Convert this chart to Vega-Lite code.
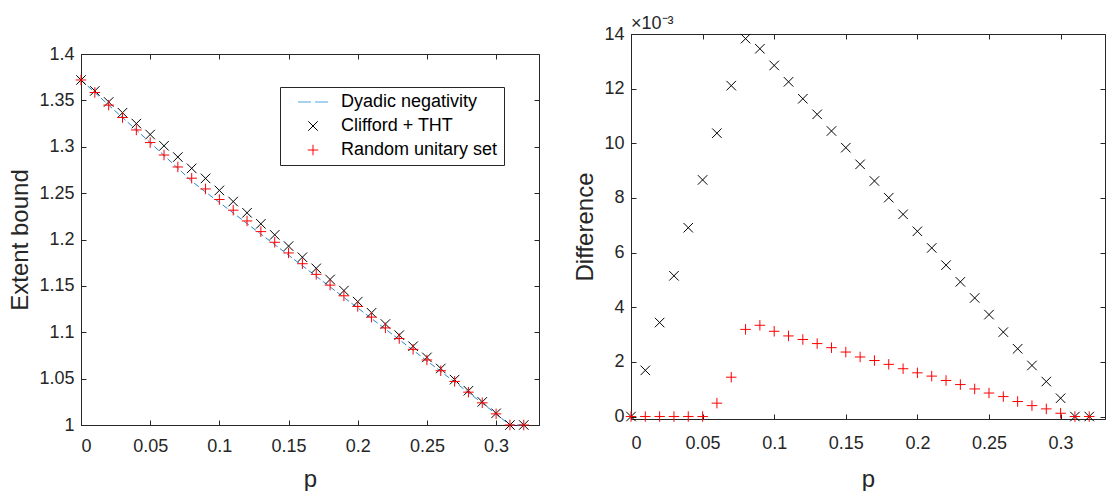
{
  "$schema": "https://vega.github.io/schema/vega-lite/v6.json",
  "background": "white",
  "padding": {"left": 8, "top": 14, "right": 0, "bottom": 0},
  "datasets": {
    "left": [
      {"p": 0, "dyadic": 1.372, "clifford": 1.372, "random": 1.372},
      {"p": 0.01, "dyadic": 1.3585, "clifford": 1.3602, "random": 1.3585},
      {"p": 0.02, "dyadic": 1.3449, "clifford": 1.3483, "random": 1.3449},
      {"p": 0.03, "dyadic": 1.3315, "clifford": 1.3367, "random": 1.3315},
      {"p": 0.04, "dyadic": 1.3181, "clifford": 1.325, "random": 1.3181},
      {"p": 0.05, "dyadic": 1.3045, "clifford": 1.3132, "random": 1.3045},
      {"p": 0.06, "dyadic": 1.2906, "clifford": 1.301, "random": 1.2911},
      {"p": 0.07, "dyadic": 1.2768, "clifford": 1.2889, "random": 1.2782},
      {"p": 0.08, "dyadic": 1.2629, "clifford": 1.2767, "random": 1.2661},
      {"p": 0.09, "dyadic": 1.2512, "clifford": 1.2659, "random": 1.2545},
      {"p": 0.1, "dyadic": 1.24, "clifford": 1.2529, "random": 1.2431},
      {"p": 0.11, "dyadic": 1.2286, "clifford": 1.2409, "random": 1.2316},
      {"p": 0.12, "dyadic": 1.2172, "clifford": 1.2288, "random": 1.22},
      {"p": 0.13, "dyadic": 1.2058, "clifford": 1.2169, "random": 1.2085},
      {"p": 0.14, "dyadic": 1.1945, "clifford": 1.205, "random": 1.197},
      {"p": 0.15, "dyadic": 1.1831, "clifford": 1.1929, "random": 1.1855},
      {"p": 0.16, "dyadic": 1.1717, "clifford": 1.1809, "random": 1.1739},
      {"p": 0.17, "dyadic": 1.1603, "clifford": 1.1689, "random": 1.1624},
      {"p": 0.18, "dyadic": 1.1489, "clifford": 1.1569, "random": 1.1508},
      {"p": 0.19, "dyadic": 1.1375, "clifford": 1.1449, "random": 1.1393},
      {"p": 0.2, "dyadic": 1.1262, "clifford": 1.133, "random": 1.1278},
      {"p": 0.21, "dyadic": 1.1148, "clifford": 1.121, "random": 1.1163},
      {"p": 0.22, "dyadic": 1.1034, "clifford": 1.1089, "random": 1.1047},
      {"p": 0.23, "dyadic": 1.092, "clifford": 1.0969, "random": 1.0932},
      {"p": 0.24, "dyadic": 1.0806, "clifford": 1.0849, "random": 1.0816},
      {"p": 0.25, "dyadic": 1.0692, "clifford": 1.0729, "random": 1.0701},
      {"p": 0.26, "dyadic": 1.0578, "clifford": 1.0609, "random": 1.0585},
      {"p": 0.27, "dyadic": 1.0464, "clifford": 1.0489, "random": 1.047},
      {"p": 0.28, "dyadic": 1.035, "clifford": 1.0369, "random": 1.0354},
      {"p": 0.29, "dyadic": 1.0236, "clifford": 1.0249, "random": 1.0239},
      {"p": 0.3, "dyadic": 1.0119, "clifford": 1.0126, "random": 1.012},
      {"p": 0.31, "dyadic": 1.0, "clifford": 1.0, "random": 1.0},
      {"p": 0.32, "dyadic": 1.0, "clifford": 1.0, "random": 1.0}
    ],
    "right": [
      {"p": 0, "clifford": 0, "random": 0},
      {"p": 0.01, "clifford": 1.69, "random": 0},
      {"p": 0.02, "clifford": 3.44, "random": 0},
      {"p": 0.03, "clifford": 5.15, "random": 0},
      {"p": 0.04, "clifford": 6.91, "random": 0},
      {"p": 0.05, "clifford": 8.66, "random": 0},
      {"p": 0.06, "clifford": 10.37, "random": 0.49},
      {"p": 0.07, "clifford": 12.11, "random": 1.44},
      {"p": 0.08, "clifford": 13.83, "random": 3.19},
      {"p": 0.09, "clifford": 13.46, "random": 3.34},
      {"p": 0.1, "clifford": 12.85, "random": 3.12},
      {"p": 0.11, "clifford": 12.25, "random": 2.95},
      {"p": 0.12, "clifford": 11.63, "random": 2.82},
      {"p": 0.13, "clifford": 11.06, "random": 2.67},
      {"p": 0.14, "clifford": 10.45, "random": 2.52},
      {"p": 0.15, "clifford": 9.84, "random": 2.36},
      {"p": 0.16, "clifford": 9.23, "random": 2.18},
      {"p": 0.17, "clifford": 8.62, "random": 2.05},
      {"p": 0.18, "clifford": 8.01, "random": 1.91},
      {"p": 0.19, "clifford": 7.4, "random": 1.75},
      {"p": 0.2, "clifford": 6.78, "random": 1.6},
      {"p": 0.21, "clifford": 6.17, "random": 1.48},
      {"p": 0.22, "clifford": 5.54, "random": 1.32},
      {"p": 0.23, "clifford": 4.93, "random": 1.17},
      {"p": 0.24, "clifford": 4.34, "random": 1.01},
      {"p": 0.25, "clifford": 3.73, "random": 0.86},
      {"p": 0.26, "clifford": 3.09, "random": 0.73},
      {"p": 0.27, "clifford": 2.48, "random": 0.55},
      {"p": 0.28, "clifford": 1.87, "random": 0.4},
      {"p": 0.29, "clifford": 1.28, "random": 0.28},
      {"p": 0.3, "clifford": 0.67, "random": 0.12},
      {"p": 0.31, "clifford": 0, "random": 0},
      {"p": 0.32, "clifford": 0, "random": 0}
    ]
  },
  "spacing": 33,
  "hconcat": [
    {
      "spacing": 9,
      "vconcat": [
        {
          "width": 458,
          "height": 1,
          "view": {"stroke": null},
          "data": {"values": []},
          "mark": {"type": "text", "text": ""},
          "encoding": {}
        },
        {
          "width": 458,
          "height": 371,
          "layer": [
            {
              "data": {"name": "left"},
              "mark": {"type": "line", "color": "#2a88d2", "strokeWidth": 1, "strokeDash": [6, 3]},
              "encoding": {
                "x": {"field": "p", "type": "quantitative", "scale": {"domain": [0, 0.331], "nice": false, "zero": false},
                  "axis": {"orient": "top", "labels": false, "title": null, "domain": false, "values": [0, 0.05, 0.1, 0.15, 0.2, 0.25, 0.3]}},
                "y": {"field": "dyadic", "type": "quantitative", "scale": {"domain": [1, 1.4], "nice": false, "zero": false},
                  "axis": {"orient": "right", "labels": false, "title": null, "domain": false, "values": [1, 1.05, 1.1, 1.15, 1.2, 1.25, 1.3, 1.35, 1.4]}}
              }
            },
            {
              "data": {"name": "left"},
              "transform": [{"fold": ["clifford", "random"], "as": ["series", "v"]}],
              "mark": {"type": "point", "filled": false, "strokeWidth": 1, "size": 100, "opacity": 1},
              "encoding": {
                "x": {"field": "p", "type": "quantitative", "scale": {"domain": [0, 0.331], "nice": false, "zero": false},
                  "axis": {"orient": "bottom", "title": "p", "format": ".2~f", "values": [0, 0.05, 0.1, 0.15, 0.2, 0.25, 0.3], "labelPadding": 17, "titlePadding": 12}},
                "y": {"field": "v", "type": "quantitative", "scale": {"domain": [1, 1.4], "nice": false, "zero": false},
                  "axis": {"orient": "left", "title": "Extent bound", "format": ".3~f", "values": [1, 1.05, 1.1, 1.15, 1.2, 1.25, 1.3, 1.35, 1.4], "titlePadding": 6}},
                "color": {"field": "series", "type": "nominal",
                  "scale": {"domain": ["dyadic", "clifford", "random"], "range": ["#4fa6e0", "#000000", "#ff0000"]},
                  "legend": {"labelExpr": "{'dyadic': 'Dyadic negativity', 'clifford': 'Clifford + THT', 'random': 'Random unitary set'}[datum.label]"}},
                "shape": {"field": "series", "type": "nominal",
                  "scale": {"domain": ["dyadic", "clifford", "random"], "range": ["M-3,0H-0.4M0.4,0H3", "M-0.95,-0.95L0.95,0.95M-0.95,0.95L0.95,-0.95", "M-1.05,0H1.05M0,-1.05V1.05"]},
                  "legend": {"labelExpr": "{'dyadic': 'Dyadic negativity', 'clifford': 'Clifford + THT', 'random': 'Random unitary set'}[datum.label]"}}
              }
            }
          ],
          "resolve": {"axis": {"x": "independent", "y": "independent"}}
        }
      ]
    },
    {
      "width": 474,
      "height": 385,
      "title": {"text": "×10⁻³", "anchor": "start", "frame": "group", "fontSize": 18, "font": "Liberation Sans", "color": "#262626", "fontWeight": "normal", "offset": -8},
      "layer": [
        {
          "data": {"name": "right"},
          "mark": {"type": "point", "filled": false, "strokeWidth": 1, "size": 100, "opacity": 1, "color": "#000000", "shape": "M-0.95,-0.95L0.95,0.95M-0.95,0.95L0.95,-0.95"},
          "encoding": {
            "x": {"field": "p", "type": "quantitative", "scale": {"domain": [0, 0.331], "nice": false, "zero": false},
              "axis": {"orient": "bottom", "title": "p", "format": ".2~f", "values": [0, 0.05, 0.1, 0.15, 0.2, 0.25, 0.3], "labelPadding": 20, "titlePadding": 15}},
            "y": {"field": "clifford", "type": "quantitative", "scale": {"domain": [-0.09, 14], "nice": false, "zero": false},
              "axis": {"orient": "left", "title": "Difference", "format": "d", "values": [0, 2, 4, 6, 8, 10, 12, 14], "titlePadding": 6}}
          }
        },
        {
          "data": {"name": "right"},
          "mark": {"type": "point", "filled": false, "strokeWidth": 1, "size": 100, "opacity": 1, "color": "#ff0000", "shape": "M-1.05,0H1.05M0,-1.05V1.05"},
          "encoding": {
            "x": {"field": "p", "type": "quantitative", "scale": {"domain": [0, 0.331], "nice": false, "zero": false},
              "axis": {"orient": "top", "labels": false, "title": null, "domain": false, "values": [0, 0.05, 0.1, 0.15, 0.2, 0.25, 0.3]}},
            "y": {"field": "random", "type": "quantitative", "scale": {"domain": [-0.09, 14], "nice": false, "zero": false},
              "axis": {"orient": "right", "labels": false, "title": null, "domain": false, "values": [0, 2, 4, 6, 8, 10, 12, 14]}}
          }
        }
      ],
      "resolve": {"axis": {"x": "independent", "y": "independent"}}
    }
  ],
  "config": {
    "font": "Liberation Sans",
    "view": {"stroke": "#262626", "strokeWidth": 1},
    "axis": {
      "labelFont": "Liberation Sans", "labelFontSize": 18, "labelColor": "#262626",
      "titleFont": "Liberation Sans", "titleFontSize": 24, "titleFontWeight": "normal", "titleColor": "#262626",
      "domainColor": "#262626", "tickColor": "#262626", "grid": false,
      "tickSize": -5, "labelPadding": 12
    },
    "legend": {
      "orient": "none", "legendX": 199, "legendY": 53, "title": null,
      "strokeColor": "#262626", "fillColor": "white", "padding": 6,
      "labelFont": "Liberation Sans", "labelFontSize": 18, "labelColor": "#000000",
      "symbolSize": 100, "symbolStrokeWidth": 1, "symbolOffset": 18, "labelOffset": 19, "rowPadding": 6
    }
  }
}
